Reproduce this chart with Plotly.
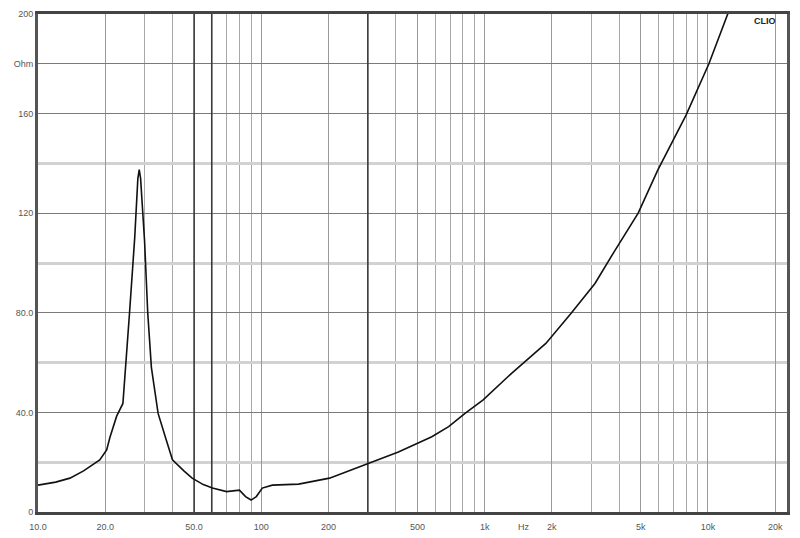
import math
import plotly.graph_objects as go

# ---- data ----
freq_hz = [10, 12, 13.9, 16, 18.9, 20.3, 21, 22.5, 24, 24.9, 25.7, 27.1, 28.0, 28.4, 28.8,
           30, 31, 32.2, 34.5, 37.5, 40, 45, 49, 55, 60.4, 69.9, 79.8, 85, 90, 95, 101,
           112, 147, 202, 302, 411, 580, 690, 817, 985, 1320, 1880, 2440, 3120, 3830,
           4870, 5960, 7980, 10100, 12300, 13000]
impedance_ohm = [10.8, 12.0, 13.6, 16.5, 20.9, 24.9, 30.0, 38.5, 43.6, 62.0, 80.0, 110.0, 134.0, 137.5, 134.0,
                 109.0, 80.0, 58.0, 39.6, 29.0, 21.0, 16.5, 13.6, 11.0, 9.6, 8.2, 8.8, 6.2, 4.8, 6.2, 9.6,
                 10.8, 11.2, 13.6, 19.7, 24.1, 30.2, 34.3, 39.6, 45.0, 55.7, 67.7, 79.8, 91.8, 105.0,
                 120.0, 137.3, 159.4, 180.0, 199.6, 206.0]

x_label_vals = [10, 20, 50, 100, 200, 500, 1000, 2000, 5000, 10000, 20000]
x_label_text = ["10.0", "20.0", "50.0", "100", "200", "500", "1k", "2k", "5k", "10k", "20k"]
x_minor_vals = [m * d for d in (10, 100, 1000, 10000) for m in range(2, 10) if m * d <= 22000]
x_dark_vals = [50, 60, 300]

y_label_vals = [0, 40, 80, 120, 160, 180, 200]
y_label_text = ["0", "40.0", "80.0", "120", "160", "Ohm", "200"]
y_minor_vals = [20, 60, 100, 140]

FONT = "Liberation Sans, Arial, sans-serif"

fig = go.Figure()

# dark vertical marker lines
for xv in x_dark_vals:
    fig.add_trace(go.Scatter(x=[xv, xv], y=[0, 200], mode="lines",
                             line=dict(color="#3a3a3a", width=1.6),
                             hoverinfo="skip", showlegend=False))

fig.add_trace(go.Scatter(x=freq_hz, y=impedance_ohm, mode="lines",
                         line=dict(color="#111111", width=1.6),
                         showlegend=False, cliponaxis=True))

fig.update_xaxes(type="log", range=[1, 4.354], automargin=False,
                 tickmode="array", tickvals=x_label_vals, ticktext=x_label_text,
                 showgrid=True, gridcolor="#9a9a9a", gridwidth=1,
                 minor=dict(tickmode="array", tickvals=x_minor_vals, showgrid=True,
                            gridcolor="#a8a8a8", gridwidth=1),
                 showline=True, linecolor="#444444", linewidth=3, mirror=True,
                 ticks="", zeroline=False, ticklabelstandoff=4,
                 tickfont=dict(family=FONT, size=9, color="#555555"))

fig.update_yaxes(range=[0, 200], automargin=False,
                 tickmode="array", tickvals=y_label_vals, ticktext=y_label_text,
                 showgrid=True, gridcolor="#7a7a7a", gridwidth=1,
                 minor=dict(tickmode="array", tickvals=y_minor_vals, showgrid=True,
                            gridcolor="#d2d2d2", gridwidth=3),
                 showline=True, linecolor="#555555", linewidth=3, mirror=True,
                 ticks="", zeroline=False,
                 tickfont=dict(family=FONT, size=9, color="#555555"))

fig.add_annotation(x=math.log10(1500), y=0, xref="x", yref="y", text="Hz",
                   showarrow=False, yanchor="top", yshift=-8,
                   font=dict(family=FONT, size=9, color="#555555"))
fig.add_annotation(x=0.988, y=1.0, xref="paper", yref="paper", text="<b>CLIO</b>",
                   showarrow=False, xanchor="right", yanchor="top",
                   font=dict(family=FONT, size=9, color="#222222"))

fig.update_layout(width=800, height=538,
                  margin=dict(l=38, r=13, t=14, b=26, autoexpand=False),
                  paper_bgcolor="white", plot_bgcolor="white")

fig.write_html("out.html", config={"displayModeBar": False},
               post_script="document.body.style.margin='0';document.body.style.overflow='hidden';")
